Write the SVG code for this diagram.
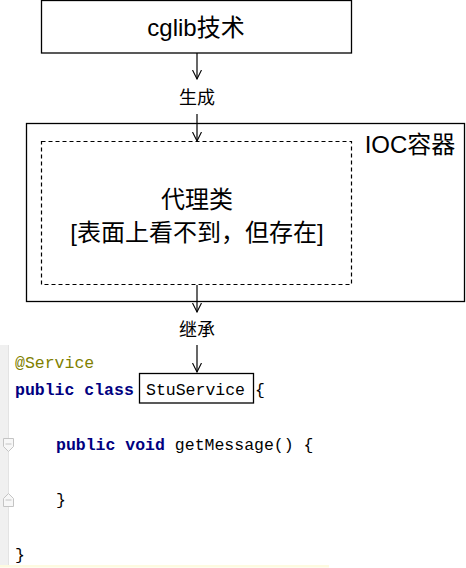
<svg xmlns="http://www.w3.org/2000/svg" width="466" height="568" viewBox="0 0 466 568">
<style>
.box{fill:#fff;stroke:#000;stroke-width:1.3}
.dash{fill:none;stroke:#000;stroke-width:1.2;stroke-dasharray:4 3}
.lbl{font-family:"Liberation Sans","Noto Sans CJK SC",sans-serif;fill:#000;text-anchor:middle}
.code{font-family:"Liberation Mono","DejaVu Sans Mono",monospace;font-size:16.5px;fill:#000}
.kw{font-weight:bold;fill:#000080}
.ann{fill:#808000}
.conn{stroke:#000;stroke-width:1.2;fill:none}
.fold{fill:#f7f7f7;stroke:#c4c4c4}
</style>
<defs>
<marker id="arr" viewBox="0 0 10 10" refX="9" refY="5" markerWidth="10" markerHeight="10" markerUnits="userSpaceOnUse" orient="auto">
<path d="M0,0.5 L9,5 L0,9.5" fill="none" stroke="#000" stroke-width="1.1"/>
</marker>
</defs>
<rect width="466" height="568" fill="#fff"/>
<g id="cglib">
<rect class="box" x="41.5" y="0.5" width="310" height="52.5"/>
<text class="lbl" x="196" y="36" font-size="24">cglib技术</text>
</g>
<g id="ioc">
<rect class="box" x="26.5" y="123.5" width="438" height="178"/>
<text class="lbl" x="410" y="153" font-size="24">IOC容器</text>
</g>
<g id="proxy">
<rect class="dash" x="41.5" y="141.5" width="310" height="143"/>
<text class="lbl" x="197" y="208" font-size="24">代理类</text>
<text class="lbl" x="197" y="241" font-size="24">[表面上看不到，但存在]</text>
</g>
<g id="code">
<rect x="0" y="345" width="8" height="220" fill="#f0f0f0"/>
<line x1="8.5" y1="345" x2="8.5" y2="565" stroke="#e3e3e3"/>
<path class="fold" d="M3.5,438.5 h10 v8 l-5,5 l-5,-5 z"/>
<line x1="5.5" y1="444" x2="11.5" y2="444" stroke="#c4c4c4"/>
<path class="fold" d="M3.5,506.5 h10 v-8 l-5,-5 l-5,5 z"/>
<line x1="5.5" y1="500" x2="11.5" y2="500" stroke="#c4c4c4"/>
<rect x="0" y="565" width="329" height="2.5" fill="#fdfae0"/>
<text class="code ann" x="15" y="368">@Service</text>
<text class="code" x="15" y="395"><tspan class="kw">public class</tspan></text>
<text class="code" x="56" y="450"><tspan class="kw">public void</tspan> getMessage() {</text>
<text class="code" x="56" y="505">}</text>
<text class="code" x="15" y="560">}</text>
</g>
<g id="stuservice">
<rect class="box" x="139.5" y="373.5" width="114" height="29.5"/>
<text class="code" x="146" y="395">StuService</text>
<text class="code" x="255" y="395">{</text>
</g>
<g id="connectors">
<line class="conn" x1="197" y1="53" x2="197" y2="79" marker-end="url(#arr)"/>
<text class="lbl" x="197" y="104" font-size="18">生成</text>
<line class="conn" x1="197" y1="114" x2="197" y2="141" marker-end="url(#arr)"/>
<line class="conn" x1="197" y1="285" x2="197" y2="312" marker-end="url(#arr)"/>
<text class="lbl" x="197" y="336" font-size="18">继承</text>
<line class="conn" x1="197" y1="345" x2="197" y2="372" marker-end="url(#arr)"/>
</g>
</svg>
